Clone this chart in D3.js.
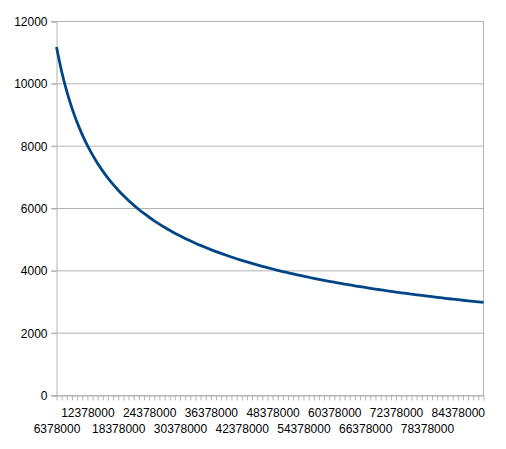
<!DOCTYPE html>
<html><head><meta charset="utf-8">
<script src="https://cdn.jsdelivr.net/npm/d3@7"></script>
<style>body{margin:0;background:#fff}svg{display:block}text{font-family:"Liberation Sans",Arial,sans-serif;font-size:12px;fill:#000}</style>
</head><body>
<script>
const categories = [6378000,7378000,8378000,9378000,10378000,11378000,12378000,13378000,14378000,15378000,
16378000,17378000,18378000,19378000,20378000,21378000,22378000,23378000,24378000,25378000,
26378000,27378000,28378000,29378000,30378000,31378000,32378000,33378000,34378000,35378000,
36378000,37378000,38378000,39378000,40378000,41378000,42378000,43378000,44378000,45378000,
46378000,47378000,48378000,49378000,50378000,51378000,52378000,53378000,54378000,55378000,
56378000,57378000,58378000,59378000,60378000,61378000,62378000,63378000,64378000,65378000,
66378000,67378000,68378000,69378000,70378000,71378000,72378000,73378000,74378000,75378000,
76378000,77378000,78378000,79378000,80378000,81378000,82378000,83378000,84378000,85378000,
86378000,87378000,88378000,89378000];
const values = [11180,10395,9755,9220,8765,8371,8025,7720,7446,7200,
6977,6773,6586,6414,6255,6107,5969,5840,5719,5605,
5498,5396,5300,5209,5123,5041,4962,4887,4816,4747,
4681,4618,4558,4499,4443,4389,4337,4287,4238,4191,
4146,4102,4059,4018,3978,3939,3901,3865,3829,3794,
3760,3727,3695,3664,3634,3604,3575,3547,3519,3492,
3466,3440,3414,3390,3366,3342,3319,3296,3274,3252,
3231,3210,3189,3169,3149,3130,3111,3092,3074,3056,
3038,3021,3003,2987];
const yTicks = [0,2000,4000,6000,8000,10000,12000];

const W=506,H=449;
const svg=d3.select("body").append("svg").attr("width",W).attr("height",H);
const x=d3.scalePoint().domain(categories).range([56.5,483.5]);
const y=d3.scaleLinear().domain([0,12000]).range([395.5,21.5]);
const grid="#b3b3b3";

// gridlines
svg.append("g").selectAll("line").data(yTicks).join("line")
  .attr("x1",51).attr("x2",483.5).attr("y1",d=>y(d)).attr("y2",d=>y(d))
  .attr("stroke",grid).attr("stroke-width",1);
// right border
svg.append("line").attr("x1",483.5).attr("x2",483.5).attr("y1",y(12000)).attr("y2",y(0)).attr("stroke",grid);

// y axis
const ya=svg.append("g").attr("transform","translate(56.5,0)")
  .call(d3.axisLeft(y).tickValues(yTicks).tickSize(5).tickPadding(4).tickFormat(d3.format("d")));
ya.selectAll("line,path").attr("stroke",grid);
ya.selectAll("text").style("font-size","12px").style("font-family","Liberation Sans, Arial, sans-serif").attr("fill","#000");

// x axis
const xa=svg.append("g").attr("transform","translate(0,395.5)")
  .call(d3.axisBottom(x).tickSize(5).tickSizeOuter(0).tickFormat((d,i)=> i%6===0 ? String(d) : ""));
xa.selectAll("line,path").attr("stroke",grid);
xa.selectAll("text").style("font-size","12px").style("font-family","Liberation Sans, Arial, sans-serif").attr("fill","#000")
  .attr("dy",0).attr("y",(d,i)=> (i%12===6)? 21.5 : 37);

// line
svg.append("path").datum(values.map((v,i)=>[categories[i],v]))
  .attr("fill","none").attr("stroke","#004586").attr("stroke-width",2.8)
  .attr("stroke-linejoin","round")
  .attr("d",d3.line().x(d=>x(d[0])).y(d=>y(d[1])).curve(d3.curveMonotoneX));
</script>
</body></html>
